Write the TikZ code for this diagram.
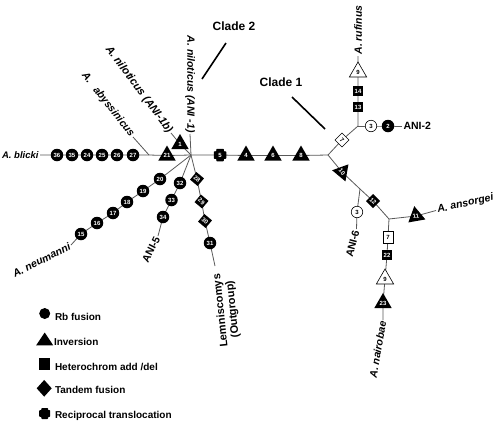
\documentclass[tikz,border=0pt]{standalone}
\usepackage{fontspec}
\setmainfont{Liberation Sans}
\usetikzlibrary{shapes.geometric}
\pgfdeclarelayer{bg}
\pgfsetlayers{bg,main}
\tikzset{
  every node/.style={inner sep=0pt, outer sep=0pt},
  numtxt/.style={font=\fontsize{6}{6}\selectfont\bfseries},
  rbnode/.style={circle, fill=black, text=white, minimum size=12.5pt, numtxt},
  rbwnode/.style={circle, draw=black, fill=white, line width=0.6pt, minimum size=11.5pt, numtxt},
  invnode/.style={regular polygon, regular polygon sides=3, fill=black, text=white, minimum size=20pt, numtxt},
  invwnode/.style={regular polygon, regular polygon sides=3, draw=black, fill=white, line width=0.6pt, minimum size=20pt, numtxt},
  hetnode/.style={rectangle, fill=black, text=white, minimum size=10.8pt, numtxt},
  hetwnode/.style={rectangle, draw=black, fill=white, line width=0.6pt, minimum width=10pt, minimum height=12pt, numtxt},
  tandnode/.style={regular polygon, regular polygon sides=4, fill=black, text=white, minimum size=14pt, numtxt},
  tandwnode/.style={regular polygon, regular polygon sides=4, draw=black, fill=white, line width=0.6pt, minimum size=14pt, numtxt},
  recnode/.style={rectangle, minimum size=#1, text=white, numtxt,
    path picture={
      \fill[black, rounded corners=0.7pt] ([shift={({-0.3*#1},{-0.5*#1})}]path picture bounding box.center)
        -- ++({0.6*#1},0pt) -- ++(0pt,{0.2*#1}) -- ++({0.2*#1},0pt) -- ++(0pt,{0.6*#1})
        -- ++({-0.2*#1},0pt) -- ++(0pt,{0.2*#1}) -- ++({-0.6*#1},0pt) -- ++(0pt,{-0.2*#1})
        -- ++({-0.2*#1},0pt) -- ++(0pt,{-0.6*#1}) -- ++({0.2*#1},0pt) -- cycle;
    }},
  branch/.style={draw=black!65, line width=0.8pt},
  splab/.style={font=\fontsize{10.5}{12}\selectfont\bfseries\itshape, inner sep=1.5pt},
  anilab/.style={font=\fontsize{10.5}{12}\selectfont\bfseries, inner sep=1.5pt},
  cladelab/.style={font=\fontsize{12}{14}\selectfont\bfseries},
  cladeline/.style={draw=black, line width=1.6pt},
  leglab/.style={font=\fontsize{10}{12}\selectfont\bfseries, anchor=base west},
}
\begin{document}
\begin{tikzpicture}[x=1pt, y=-1pt]
\useasboundingbox (0,0) rectangle (500,421);

% ---- left main chain
\node[splab, anchor=east, font=\fontsize{9.5}{11}\selectfont\bfseries\itshape] (blicki) at (40,155) {A. blicki};
\node[rbnode] (c36) at (57,155) {36};
\node[rbnode] (c35) at (72,155) {35};
\node[rbnode] (c24) at (87,155) {24};
\node[rbnode] (c25) at (102,155) {25};
\node[rbnode] (c26) at (117,155) {26};
\node[rbnode] (c27) at (133,155) {27};
\coordinate (jaby) at (149,155);
\node[invnode] (t21) at (167,155.5) {21};
\coordinate (hub) at (191,155);
\node[invnode] (t1) at (180,144) {1};

% ---- upper labels
\node[splab, rotate=-52, anchor=east] (abyss) at (133,137) {A.\hspace{8pt}abyssinicus};
\node[splab, rotate=-53.5, anchor=east, font=\fontsize{11}{12}\selectfont\bfseries\itshape] (ani1b) at (171,133) {A. niloticus (ANI-1b)};
\node[splab, rotate=-90, anchor=east] (ani1) at (190,134) {A. niloticus (ANI -1)};

% ---- right main chain
\node[recnode=12.5pt] (x5) at (220,155) {5};
\node[invnode] (t4) at (246,155.5) {4};
\node[invnode] (t6) at (273,155.5) {6};
\node[invnode] (t8) at (301,155.5) {8};
\coordinate (j1) at (328,155);

% ---- clade 1 upper part
\node[tandwnode, rotate=-45] (d7) at (342,140) {7};
\coordinate (j2) at (358,126);
\node[hetnode] (s13) at (358,107) {13};
\node[hetnode] (s14) at (358,91) {14};
\node[invwnode] (w9a) at (358,72) {9};
\node[splab, rotate=90, anchor=west] (rufinus) at (358,56) {A. rufinus};
\node[rbwnode] (w3a) at (371,126) {3};
\node[rbnode] (c2) at (388,126) {2};
\node[anilab, anchor=west] (ani2) at (402,126) {ANI-2};

% ---- clade 1 lower part
\node[invnode, rotate=-50, shape border rotate=250] (t10) at (342,172) {10};
\coordinate (j3) at (360,189);
\node[tandnode, rotate=-45] (d12) at (373,201) {12};
\coordinate (j4) at (389,219);
\node[rbwnode] (w3b) at (357,212) {3};
\node[anilab, rotate=75, anchor=east] (ani6) at (356.5,229) {ANI-6};
\node[invnode, rotate=10] (t11) at (416,216) {11};
\node[splab, rotate=12.6, anchor=west] (ansorgei) at (436,210.5) {A. ansorgei};
\node[hetwnode] (ws7) at (388,237) {7};
\node[hetnode] (s22) at (387,255) {22};
\node[invwnode] (w9b) at (385,279) {9};
\node[invnode] (t23) at (383,303) {23};
\node[splab, rotate=80, anchor=east] (nairobae) at (383,320) {A. nairobae};

% ---- lower left branches
\node[rbnode] (c20) at (160,179) {20};
\node[rbnode] (c19) at (143,191) {19};
\node[rbnode] (c18) at (127,202) {18};
\node[rbnode] (c17) at (113,213) {17};
\node[rbnode] (c16) at (97,223) {16};
\node[rbnode] (c15) at (81,234) {15};
\node[splab, rotate=27, anchor=east] (neumanni) at (71,245) {A. neumanni};
\node[rbnode] (c32) at (180,183) {32};
\node[rbnode] (c33) at (171.5,200) {33};
\node[rbnode] (c34) at (163,217) {34};
\node[anilab, rotate=63, anchor=east] (ani5) at (158,236) {ANI-5};
\node[tandnode, rotate=-40] (d28) at (197,179) {28};
\node[tandnode, rotate=-40] (d29) at (201.5,201.5) {29};
\node[tandnode, rotate=-40] (d30) at (205,221) {30};
\node[rbnode] (c31) at (210,243) {31};
\coordinate (lemend) at (215,266);
\node[anilab, rotate=96, align=center, font=\fontsize{11}{12}\selectfont\bfseries] (lemn) at (227,310) {Lemniscomys\\(Outgroup)};

% ---- clade labels
\node[cladelab] (clade2) at (234,26) {Clade 2};
\coordinate (cl2a) at (226,43);
\coordinate (cl2b) at (202,79);
\draw[cladeline] (cl2a) -- (cl2b);
\node[cladelab] (clade1) at (281,82) {Clade 1};
\coordinate (cl1a) at (292,97);
\coordinate (cl1b) at (325,129);
\draw[cladeline] (cl1a) -- (cl1b);

% ---- legend
\node[rbnode, minimum size=11pt] (lg1) at (44.7,313.5) {};
\node[leglab] (lt1) at (55,320.7) {Rb fusion};
\node[invnode, minimum size=17pt, xscale=1.15] (lg2) at (44.7,341) {};
\node[leglab] (lt2) at (54,345) {Inversion};
\node[hetnode, minimum width=10.7pt, minimum height=11.7pt] (lg3) at (44.7,364) {};
\node[leglab] (lt3) at (55,370) {Heterochrom add /del};
\node[diamond, fill=black, minimum width=15pt, minimum height=16.7pt] (lg4) at (44.2,388.3) {};
\node[leglab] (lt4) at (55,393.3) {Tandem fusion};
\node[recnode=11pt] (lg5) at (44.7,413.5) {};
\node[leglab] (lt5) at (55,418.3) {Reciprocal translocation};

% ---- connectors
\begin{pgfonlayer}{bg}
\draw[branch] (blicki.east) -- (c36.center) -- (c35.center) -- (c24.center) -- (c25.center) -- (c26.center) -- (c27.center) -- (jaby) -- (t21.center) -- (hub) -- (x5.center) -- (t4.center) -- (t6.center) -- (t8.center) -- (j1);
\draw[branch] (jaby) -- (abyss.east);
\draw[branch] (hub) -- (t1.center) -- (ani1b.east);
\draw[branch] (hub) -- (ani1.east);
\draw[branch] (j1) -- (d7.center) -- (j2) -- (s13.center) -- (s14.center) -- (w9a.center) -- (rufinus.west);
\draw[branch] (j2) -- (w3a.center) -- (c2.center) -- (ani2.west);
\draw[branch] (j1) -- (t10.center) -- (j3) -- (d12.center) -- (j4) -- (t11.center) -- (ansorgei.west);
\draw[branch] (j3) -- (w3b.center) -- (ani6.east);
\draw[branch] (j4) -- (ws7.center) -- (s22.center) -- (w9b.center) -- (t23.center) -- (nairobae.east);
\draw[branch] (hub) -- (c20.center) -- (c19.center) -- (c18.center) -- (c17.center) -- (c16.center) -- (c15.center) -- (neumanni.east);
\draw[branch] (hub) -- (c32.center) -- (c33.center) -- (c34.center) -- (ani5.east);
\draw[branch] (hub) -- (d28.center) -- (d29.center) -- (d30.center) -- (c31.center) -- (lemend);
\end{pgfonlayer}
\end{tikzpicture}
\end{document}
